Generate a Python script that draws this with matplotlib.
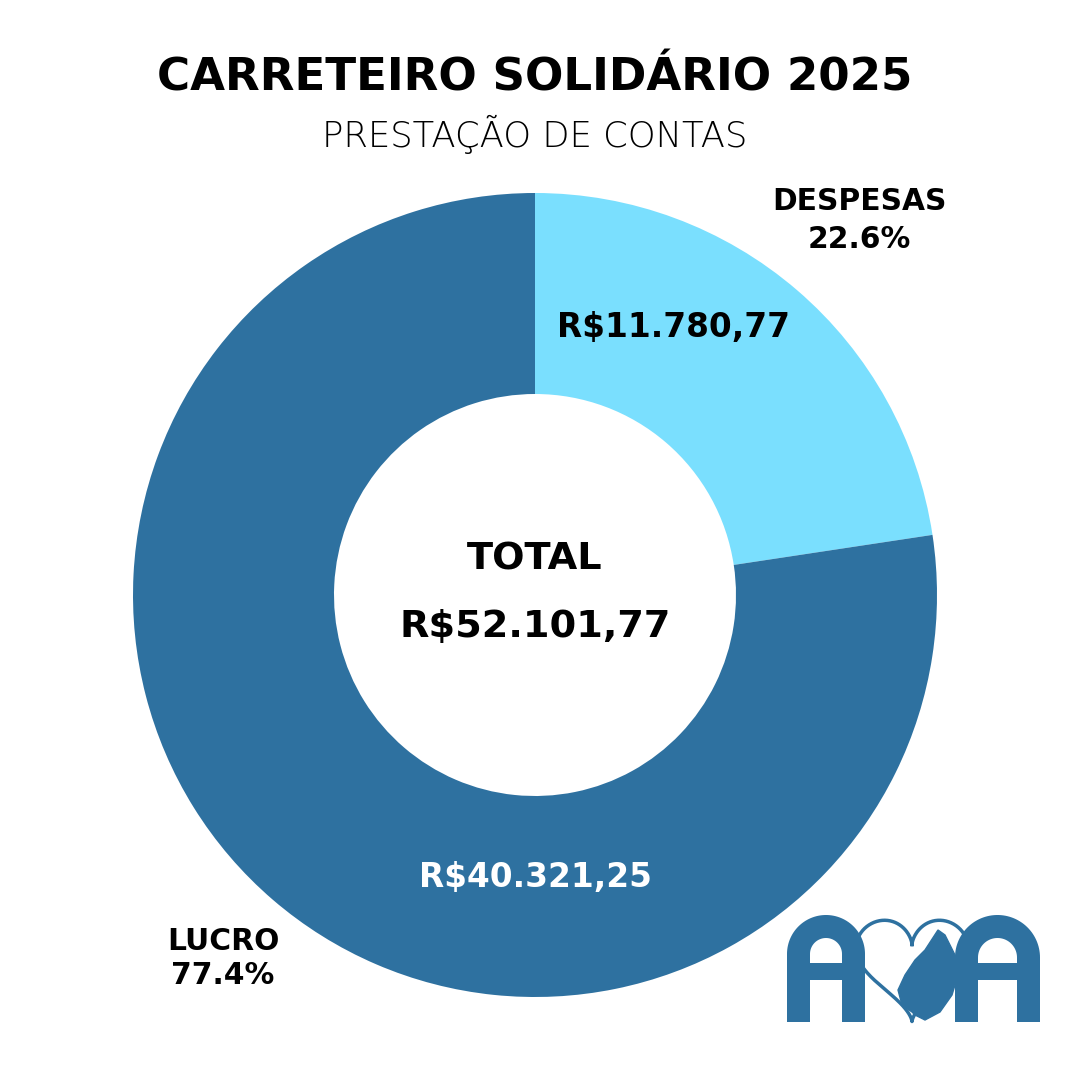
import numpy as np
import matplotlib
matplotlib.use("Agg")
import matplotlib.pyplot as plt

# ---- data ----
labels = ["DESPESAS", "LUCRO"]
values = [11780.77, 40321.25]
value_labels = ["R$11.780,77", "R$40.321,25"]
pct_labels = ["22.6%", "77.4%"]
total_label = "R$52.101,77"
title = "CARRETEIRO SOLIDÁRIO 2025"
subtitle = "PRESTAÇÃO DE CONTAS"

LIGHT = "#7ADFFE"
DARK = "#2E71A0"
BOLD = ["DejaVu Sans"]

fig = plt.figure(figsize=(10.8, 10.8), dpi=100)
ax = fig.add_axes([0, 0, 1, 1])

def Y(y):
    return 1080 - y

ax.pie(values, colors=[LIGHT, DARK], startangle=90, counterclock=False,
       center=(535, Y(595)), radius=402, frame=True,
       wedgeprops=dict(width=201, linewidth=0))
ax.set_xlim(0, 1080)
ax.set_ylim(0, 1080)
ax.set_aspect("equal")
ax.axis("off")

renderer = fig.canvas.get_renderer()

def fit_text(x, y, s, target_w, weight="bold", color="black", family=BOLD, size=None):
    t = ax.text(x, Y(y), s, ha="center", va="center", fontsize=20,
                fontweight=weight, family=family, color=color)
    if size is None:
        w = t.get_window_extent(renderer).width
        size = 20 * target_w / w
    t.set_fontsize(size)
    return size

fit_text(535, 78, title, 755)
fit_text(535, 134, subtitle, 425, weight="light")

s = fit_text(859, 202, labels[0], 174)
fit_text(859, 240, pct_labels[0], None, size=s)
fit_text(223, 942, labels[1], None, size=s)
fit_text(223, 976, pct_labels[1], None, size=s)

s2 = fit_text(673, 327, value_labels[0], 233)
fit_text(535, 877, value_labels[1], None, color="white", size=s2)

s3 = fit_text(535, 627, total_label, 272)
fit_text(535, 560, "TOTAL", None, size=s3)

# ---- logo (decorative) ----
def arch_letter(xl, xr, top, bottom, bar):
    w = 23
    cx = (xl + xr) / 2
    r = (xr - xl) / 2 - w / 2
    cy = top + w / 2 + r
    t = np.linspace(np.pi, 0, 60)
    xs = np.concatenate([[xl + w / 2], cx + r * np.cos(t), [xr - w / 2]])
    ys = np.concatenate([[bottom], cy - r * np.sin(t), [bottom]])
    ax.plot(xs, [Y(v) for v in ys], color=DARK, lw=w * 0.72,
            solid_capstyle="butt", solid_joinstyle="round")
    ax.plot([xl + w / 2, xr - w / 2], [Y(bar), Y(bar)], color=DARK,
            lw=17 * 0.72, solid_capstyle="butt")

arch_letter(787, 865, 915, 1022, 971)
arch_letter(955, 1040, 915, 1022, 971)

t = np.linspace(0, 2 * np.pi, 300)
hx = 16 * np.sin(t) ** 3
hy = 13 * np.cos(t) - 5 * np.cos(2 * t) - 2 * np.cos(3 * t) - np.cos(4 * t)
ax.plot(912 + hx * 3.5, Y(962) + hy * 3.5, color=DARK, lw=2.5)
hand_x = [915, 925, 940, 952, 958, 955, 945, 938, 925, 915, 905, 898, 902, 912]
hand_y = [1015, 1020, 1012, 995, 975, 955, 935, 930, 950, 960, 975, 990, 1005, 1012]
ax.fill(hand_x, [Y(v) for v in hand_y], color=DARK)

fig.savefig("out.png", dpi=100, facecolor="white")
